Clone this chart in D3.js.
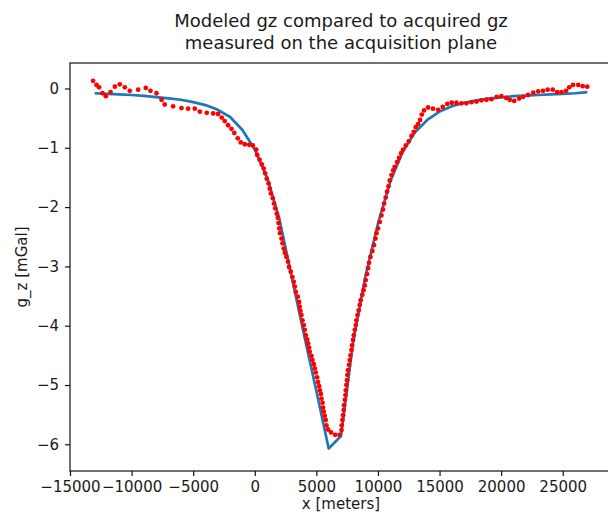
<!DOCTYPE html>
<html>
<head>
<meta charset="utf-8">
<script src="https://cdn.jsdelivr.net/npm/d3@7"></script>
<style>
  html, body { margin: 0; padding: 0; background: #fff; }
  svg { display: block; font-family: "DejaVu Sans", sans-serif; }
</style>
</head>
<body>
<svg id="chart" width="608" height="514"></svg>
<script>
// Modeled profile, sampled every 1000 m
const modelX = [-13000,-12000,-11000,-10000,-9000,-8000,-7000,-6000,-5000,-4000,-3000,-2000,-1000,
  0,1000,2000,3000,4000,5000,6000,7000,8000,9000,10000,11000,12000,13000,14000,15000,16000,
  17000,18000,19000,20000,21000,22000,23000,24000,25000,26000,27000];
const modelGz = [-0.08,-0.09,-0.10,-0.11,-0.125,-0.145,-0.165,-0.19,-0.23,-0.28,-0.36,-0.48,-0.70,
  -1.03,-1.50,-2.2,-3.18,-4.15,-5.1,-6.07,-5.86,-4.25,-3.15,-2.28,-1.57,-1.07,-0.74,-0.53,-0.39,-0.30,
  -0.24,-0.20,-0.17,-0.15,-0.13,-0.12,-0.11,-0.10,-0.09,-0.08,-0.06];

// Acquired profile
const acqX = [-13130,-12850,-12640,-12360,-12090,-11710,-11360,-10960,-10550,-10150,-9470,-8850,-8470,
  -7980,-7570,-7310,-6630,-5950,-5410,-4870,-4460,-3900,-3380,-2980,-2680,-2440,-2170,-1890,-1660,
  -1380,-1140,-810,-450,-160,120,200,390,570,730,840,970,1120,1220,1310,1460,1560,1660,1790,1870,
  1930,1990,2050,2170,2250,2350,2440,2570,2700,2780,2920,3060,3170,3250,3330,3490,3600,3650,3710,
  3790,3870,3980,4060,4140,4250,4330,4410,4460,4600,4680,4790,4870,4950,5060,5140,5220,5280,5360,
  5410,5500,5540,5600,5680,5760,5820,5950,6190,6530,6880,7040,7060,7120,7170,7220,7250,7310,7360,
  7390,7440,7490,7520,7570,7650,7710,7770,7850,7900,7980,8040,8120,8200,8250,8340,8440,8520,8600,
  8730,8830,8930,9010,9120,9200,9280,9390,9550,9680,9800,9880,10010,10150,10280,10410,10500,10630,
  10740,10850,10960,11100,11230,11360,11550,11710,11880,12040,12260,12500,12720,12910,13070,13260,
  13420,13560,13740,14070,14470,14890,15260,15630,15990,16370,16780,17180,17590,18000,18400,18810,
  19210,19640,20020,20410,20700,21060,21470,21790,22180,22610,23010,23400,23780,24190,24550,24900,
  25270,25530,25840,26260,26620,26990];
const acqGz = [0.13,0.06,0.02,-0.08,-0.13,-0.06,0.03,0.07,0.02,-0.04,-0.02,0.01,-0.04,
  -0.08,-0.19,-0.27,-0.30,-0.33,-0.34,-0.34,-0.39,-0.41,-0.42,-0.43,-0.49,-0.55,-0.62,-0.68,-0.75,
  -0.84,-0.91,-0.94,-0.95,-0.96,-1.03,-1.12,-1.20,-1.28,-1.35,-1.43,-1.52,-1.60,-1.69,-1.77,-1.85,-1.94,-2.02,-2.11,-2.18,
  -2.27,-2.36,-2.44,-2.53,-2.61,-2.70,-2.77,-2.84,-2.92,-3.01,-3.09,-3.18,-3.26,-3.34,-3.43,-3.51,-3.60,-3.68,-3.75,
  -3.82,-3.91,-3.99,-4.07,-4.16,-4.23,-4.30,-4.37,-4.44,-4.51,-4.58,-4.65,-4.72,-4.79,-4.87,-4.95,-5.02,-5.09,-5.15,
  -5.23,-5.30,-5.38,-5.45,-5.52,-5.59,-5.68,-5.75,-5.80,-5.84,-5.84,-5.76,-5.68,-5.59,-5.51,-5.42,-5.34,-5.25,-5.17,
  -5.09,-5.00,-4.92,-4.83,-4.75,-4.66,-4.58,-4.50,-4.41,-4.33,-4.24,-4.16,-4.07,-3.99,-3.91,-3.82,-3.74,-3.65,-3.57,
  -3.48,-3.40,-3.32,-3.23,-3.13,-3.03,-2.94,-2.84,-2.74,-2.64,-2.53,-2.44,-2.36,-2.25,-2.14,-2.04,-1.94,-1.84,
  -1.74,-1.65,-1.55,-1.46,-1.38,-1.32,-1.24,-1.17,-1.09,-1.03,-0.96,-0.89,-0.80,-0.73,-0.65,-0.60,
  -0.53,-0.44,-0.37,-0.32,-0.34,-0.36,-0.31,-0.26,-0.24,-0.24,-0.25,-0.25,-0.23,-0.22,-0.20,-0.19,
  -0.18,-0.14,-0.13,-0.16,-0.19,-0.21,-0.17,-0.14,-0.11,-0.07,-0.05,-0.04,-0.02,-0.02,-0.06,-0.06,
  -0.04,0.02,0.06,0.06,0.04,0.03];

const xTicks = [-15000,-10000,-5000,0,5000,10000,15000,20000,25000];
const yTicks = [-6,-5,-4,-3,-2,-1,0];
const titleLines = ["Modeled gz compared to acquired gz", "measured on the acquisition plane"];
const xLabel = "x [meters]";
const yLabel = "g_z [mGal]";

const svg = d3.select("#chart");
const plot = { left: 70, right: 612, top: 63, bottom: 471 };

const x = d3.scaleLinear().domain([-15000, 29000]).range([plot.left, plot.right]);
const y = d3.scaleLinear().domain([-6.45, 0.43]).range([plot.bottom, plot.top]);

const textColor = "#1a1a1a";

// modeled curve
svg.append("path")
  .datum(modelX.map((v, i) => [v, modelGz[i]]))
  .attr("fill", "none")
  .attr("stroke", "#1f77b4")
  .attr("stroke-width", 2.7)
  .attr("stroke-linejoin", "round")
  .attr("d", d3.line().x(d => x(d[0])).y(d => y(d[1])));

// acquired points
svg.append("g")
  .selectAll("circle")
  .data(acqX.map((v, i) => [v, acqGz[i]]))
  .join("circle")
  .attr("cx", d => x(d[0]))
  .attr("cy", d => y(d[1]))
  .attr("r", 2.4)
  .attr("fill", "#ff0000");

// frame
svg.append("rect")
  .attr("x", plot.left).attr("y", plot.top)
  .attr("width", plot.right - plot.left).attr("height", plot.bottom - plot.top)
  .attr("fill", "none").attr("stroke", "#111").attr("stroke-width", 1.2);

// axes
const fmt = d3.format("d");
const xAxis = svg.append("g")
  .attr("transform", `translate(0,${plot.bottom})`)
  .call(d3.axisBottom(x).tickValues(xTicks).tickFormat(fmt).tickSize(5).tickPadding(5));
const yAxis = svg.append("g")
  .attr("transform", `translate(${plot.left},0)`)
  .call(d3.axisLeft(y).tickValues(yTicks).tickFormat(fmt).tickSize(5).tickPadding(6));

[xAxis, yAxis].forEach(a => {
  a.select(".domain").remove();
  a.selectAll(".tick line").attr("stroke", "#111").attr("stroke-width", 1.2);
  a.selectAll(".tick text")
    .attr("fill", textColor)
    .style("font-size", "15px")
    .style("font-family", "DejaVu Sans, sans-serif");
});

// axis labels
svg.append("text")
  .attr("x", (plot.left + plot.right) / 2)
  .attr("y", 509)
  .attr("text-anchor", "middle")
  .attr("fill", textColor)
  .style("font-size", "15px")
  .text(xLabel);

svg.append("text")
  .attr("transform", `translate(27,${(plot.top + plot.bottom) / 2}) rotate(-90)`)
  .attr("text-anchor", "middle")
  .attr("fill", textColor)
  .style("font-size", "15px")
  .text(yLabel);

// title
svg.append("g")
  .selectAll("text")
  .data(titleLines)
  .join("text")
  .attr("x", (plot.left + plot.right) / 2)
  .attr("y", (d, i) => 27 + i * 21.5)
  .attr("text-anchor", "middle")
  .attr("fill", textColor)
  .style("font-size", "18px")
  .text(d => d);
</script>
</body>
</html>
